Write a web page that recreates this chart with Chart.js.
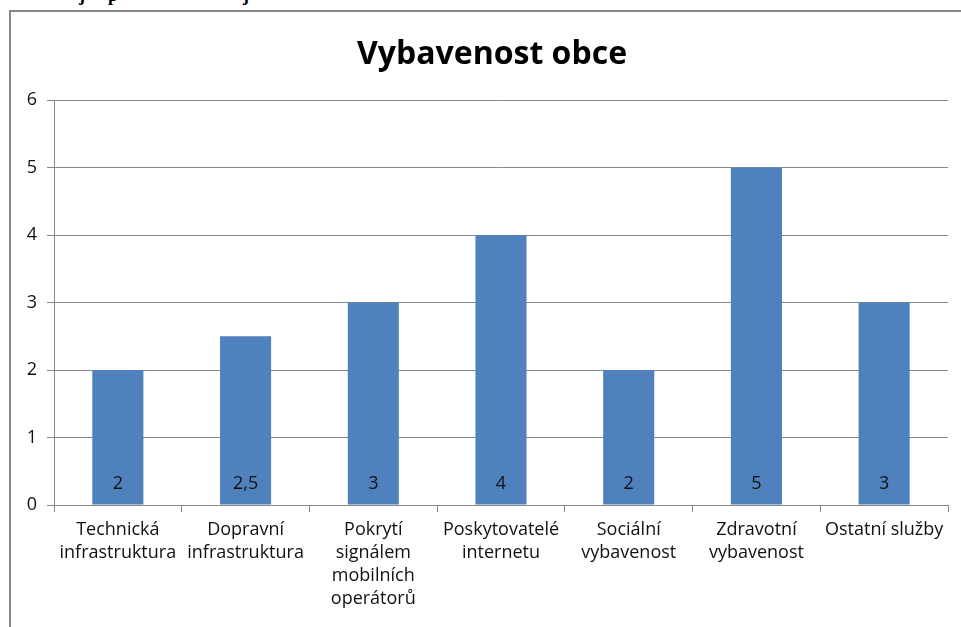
<!DOCTYPE html>
<html><head><meta charset="utf-8">
<script src="https://cdn.jsdelivr.net/npm/chart.js@4"></script>
<style>
html,body{margin:0;padding:0;background:#fff;width:961px;height:627px;overflow:hidden;}
#frame{position:absolute;left:9px;top:10px;width:952px;height:617px;border-left:2px solid #888;border-top:2px solid #888;}
#wrap{position:absolute;left:2px;top:1px;width:948px;height:614px;}
.cut{position:absolute;top:-14px;font:bold 18px/18px 'Liberation Serif',serif;color:#000;}
</style></head><body>
<span class="cut" style="left:79px">j</span>
<span class="cut" style="left:108px">p</span>
<span class="cut" style="left:243px">j</span>
<div id="frame"><div id="wrap"><canvas id="c" width="948" height="614"></canvas></div></div>
<script>
const categories = [
  ["Technická","infrastruktura"],
  ["Dopravní","infrastruktura"],
  ["Pokrytí","signálem","mobilních","operátorů"],
  ["Poskytovatelé","internetu"],
  ["Sociální","vybavenost"],
  ["Zdravotní","vybavenost"],
  ["Ostatní služby"]
];
const values = [2, 2.5, 3, 4, 2, 5, 3];
const yTicks = [0,1,2,3,4,5,6];
const titleText = "Vybavenost obce";

const FONT = "'Open Sans', Lato, sans-serif";

const labelPlugin = {
  id: 'barLabels',
  afterDatasetsDraw(chart) {
    const ctx = chart.ctx;
    const meta = chart.getDatasetMeta(0);
    ctx.save();
    ctx.font = "18px " + FONT;
    ctx.fillStyle = "#111";
    ctx.textAlign = "center";
    ctx.textBaseline = "middle";
    meta.data.forEach((bar, i) => {
      const txt = String(values[i]).replace('.', ',');
      ctx.fillText(txt, bar.x, bar.base - 21);
    });
    // title
    ctx.font = "bold 32px " + FONT;
    ctx.fillStyle = "#000";
    ctx.fillText(titleText, 479, 42);
    ctx.restore();
  }
};

new Chart(document.getElementById('c'), {
  type: 'bar',
  data: {
    labels: categories,
    datasets: [{
      data: values,
      backgroundColor: '#4F81BD',
      borderWidth: 0,
      categoryPercentage: 1.0,
      barPercentage: 0.4
    }]
  },
  options: {
    responsive: false,
    animation: false,
    layout: { padding: { left: 0, right: 13, top: 87, bottom: 0 } },
    plugins: {
      legend: { display: false },
      tooltip: { enabled: false },
      title: { display: false }
    },
    scales: {
      x: {
        grid: { drawOnChartArea: false, drawTicks: true, tickLength: 7, color: '#888', offset: true },
        border: { color: '#888', width: 1 },
        ticks: { color: '#111', font: { family: FONT, size: 18, lineHeight: 1.28 }, padding: 6, maxRotation: 0, autoSkip: false },
        afterFit(s) { s.height = 122; }
      },
      y: {
        min: 0, max: 6,
        afterBuildTicks(s) { s.ticks = yTicks.map(v => ({ value: v })); },
        grid: { color: '#888', tickLength: 7, drawTicks: true },
        border: { color: '#888', width: 1 },
        ticks: { color: '#111', font: { family: FONT, size: 18 }, padding: 10 },
        afterFit(s) { s.width = 41; }
      }
    }
  },
  plugins: [labelPlugin]
});
</script>
</body></html>
